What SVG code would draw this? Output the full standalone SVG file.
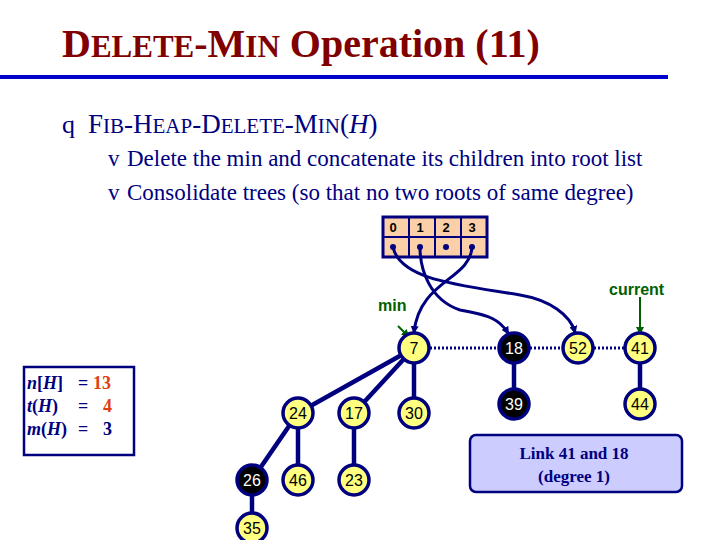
<svg xmlns="http://www.w3.org/2000/svg" width="720" height="540" viewBox="0 0 720 540">
<style>
.t{font-family:"Liberation Serif",serif}
.n circle{stroke:#00007f;stroke-width:3.5;fill:#ffff80}
.n.b circle{fill:#000}
.n text{font-family:"Liberation Sans",sans-serif;font-size:16px;text-anchor:middle;fill:#000}
.n.b text{fill:#fff}
.e{stroke:#00007f;stroke-width:4.5}
.d{stroke:#00007f;stroke-width:3;stroke-dasharray:2,2}
.p{stroke:#00007f;stroke-width:3;fill:none;marker-end:url(#a)}
.g{stroke:#006000;stroke-width:2;fill:none;marker-end:url(#ga)}
</style>
<defs>
<marker id="a" markerWidth="8" markerHeight="8" refX="6" refY="4" orient="auto" markerUnits="userSpaceOnUse"><path d="M0,0L8,4L0,8z" fill="#00007f"/></marker>
<marker id="ga" markerWidth="8" markerHeight="8" refX="6" refY="4" orient="auto" markerUnits="userSpaceOnUse"><path d="M0,0L8,4L0,8z" fill="#006000"/></marker>
</defs>
<rect width="720" height="540" fill="#fff"/>
<text class="t" x="62" y="57" font-size="40" font-weight="bold" fill="#800000">D<tspan font-size="31">ELETE</tspan>-M<tspan font-size="31">IN</tspan> Operation (11)</text>
<rect x="0" y="75" width="668" height="4" fill="#0000cc"/>
<text class="t" x="62" y="133" font-size="26" fill="#00007f">q</text>
<text class="t" x="88" y="133" font-size="27" fill="#00007f">F<tspan font-size="21">IB</tspan>-H<tspan font-size="21">EAP</tspan>-D<tspan font-size="21">ELETE</tspan>-M<tspan font-size="21">IN</tspan>(<tspan font-style="italic">H</tspan>)</text>
<g class="t" font-size="23" fill="#00007f">
<text x="108" y="166">v</text><text x="127" y="166">Delete the min and concatenate its children into root list</text>
<text x="108" y="200">v</text><text x="127" y="200">Consolidate trees (so that no two roots of same degree)</text>
</g>
<g id="array">
<rect x="383" y="217" width="104" height="40" fill="#fbcfa8" stroke="#00007f" stroke-width="3"/>
<path d="M409,217V257M435,217V257M461,217V257M383,237H487" stroke="#00007f" stroke-width="2"/>
<g font-family="Liberation Sans,sans-serif" font-size="13" font-weight="bold" text-anchor="middle" fill="#000">
<text x="393" y="232">0</text><text x="420" y="232">1</text><text x="446" y="232">2</text><text x="472" y="232">3</text></g>
<g fill="#00007f"><circle cx="393" cy="247" r="3"/><circle cx="420" cy="247" r="3"/><circle cx="446" cy="247" r="3"/><circle cx="472" cy="247" r="3"/></g>
</g>
<g id="connectors">
<path class="p" d="M393,247C400,280 460,285 520,295 550,300 570,315 575,332"/>
<path class="p" d="M420,247C420,270 430,300 460,310 490,315 500,320 508,333"/>
<path class="p" d="M472,247C470,280 420,280 414,332"/>
<path class="g" d="M398,326L408,336"/>
<path class="g" d="M640,297V333"/>
<line class="d" x1="430" y1="348" x2="498" y2="348"/>
<line class="d" x1="530" y1="348" x2="562" y2="348"/>
<line class="d" x1="594" y1="348" x2="624" y2="348"/>
<line class="e" x1="414" y1="348" x2="298" y2="413"/>
<line class="e" x1="414" y1="348" x2="354" y2="413"/>
<line class="e" x1="414" y1="348" x2="414" y2="413"/>
<line class="e" x1="298" y1="413" x2="252" y2="480"/>
<line class="e" x1="298" y1="413" x2="298" y2="480"/>
<line class="e" x1="354" y1="413" x2="354" y2="480"/>
<line class="e" x1="252" y1="480" x2="252" y2="528"/>
<line class="e" x1="514" y1="348" x2="514" y2="404"/>
<line class="e" x1="640" y1="348" x2="640" y2="404"/>
</g>
<g font-family="Liberation Sans,sans-serif" font-size="16" font-weight="bold" fill="#006000">
<text x="378" y="311">min</text><text x="609" y="295">current</text></g>
<g id="n7" class="n"><circle cx="414" cy="348" r="15"/><text x="414" y="354">7</text></g>
<g id="n18" class="n b"><circle cx="514" cy="348" r="15"/><text x="514" y="354">18</text></g>
<g id="n52" class="n"><circle cx="578" cy="348" r="15"/><text x="578" y="354">52</text></g>
<g id="n41" class="n"><circle cx="640" cy="348" r="15"/><text x="640" y="354">41</text></g>
<g id="n39" class="n b"><circle cx="514" cy="404" r="15"/><text x="514" y="410">39</text></g>
<g id="n44" class="n"><circle cx="640" cy="404" r="15"/><text x="640" y="410">44</text></g>
<g id="n24" class="n"><circle cx="298" cy="413" r="15"/><text x="298" y="419">24</text></g>
<g id="n17" class="n"><circle cx="354" cy="413" r="15"/><text x="354" y="419">17</text></g>
<g id="n30" class="n"><circle cx="414" cy="413" r="15"/><text x="414" y="419">30</text></g>
<g id="n26" class="n b"><circle cx="252" cy="480" r="15"/><text x="252" y="486">26</text></g>
<g id="n46" class="n"><circle cx="298" cy="480" r="15"/><text x="298" y="486">46</text></g>
<g id="n23" class="n"><circle cx="354" cy="480" r="15"/><text x="354" y="486">23</text></g>
<g id="n35" class="n"><circle cx="252" cy="528" r="15"/><text x="252" y="534">35</text></g>
<g id="stats">
<rect x="24" y="367" width="110" height="88" fill="#fff" stroke="#00007f" stroke-width="2.5"/>
<g class="t" font-size="18" font-weight="bold" fill="#00007f">
<text x="27" y="389"><tspan font-style="italic">n</tspan>[<tspan font-style="italic">H</tspan>]</text><text x="78" y="389">=</text><text x="93" y="389" fill="#e04010">13</text>
<text x="27" y="412"><tspan font-style="italic">t</tspan>(<tspan font-style="italic">H</tspan>)</text><text x="78" y="412">=</text><text x="103" y="412" fill="#e04010">4</text>
<text x="27" y="435"><tspan font-style="italic">m</tspan>(<tspan font-style="italic">H</tspan>)</text><text x="78" y="435">=</text><text x="103" y="435">3</text>
</g></g>
<g id="callout">
<rect x="470" y="435" width="212" height="57" rx="6" fill="#ccccff" stroke="#00007f" stroke-width="2.5"/>
<g class="t" font-size="17" font-weight="bold" fill="#00007f" text-anchor="middle">
<text x="574" y="459">Link 41 and 18</text><text x="574" y="482">(degree 1)</text></g>
</g>
</svg>
